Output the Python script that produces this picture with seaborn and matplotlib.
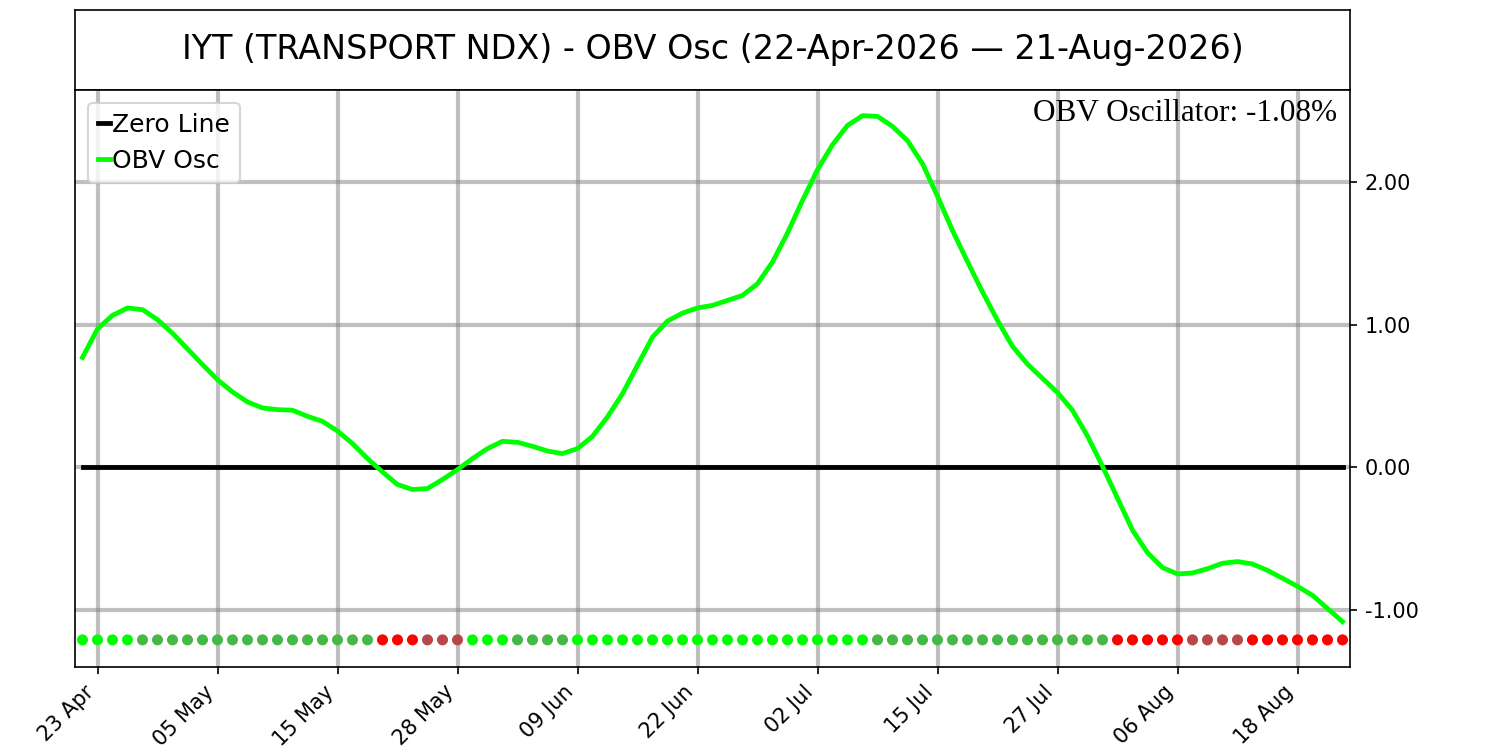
import matplotlib
matplotlib.use('Agg')
import matplotlib.pyplot as plt
from matplotlib.ticker import FormatStrFormatter
import seaborn as sns
import pandas as pd

# Trading days 22-Apr-2026 .. 21-Aug-2026 (US market holidays skipped)
start_date = '2026-04-22'
end_date = '2026-08-21'
holidays = ['2026-05-25', '2026-06-19', '2026-07-03']

# OBV oscillator values (%), one per trading day
obv_osc = [0.77, 0.97, 1.065, 1.117, 1.105, 1.035, 0.94, 0.83, 0.72, 0.614,
           0.528, 0.458, 0.416, 0.404, 0.40, 0.357, 0.322, 0.254, 0.166, 0.061,
           -0.033, -0.121, -0.156, -0.149, -0.086, -0.016, 0.061, 0.131, 0.182, 0.175,
           0.147, 0.114, 0.096, 0.131, 0.217, 0.353, 0.516, 0.715, 0.913, 1.025,
           1.081, 1.117, 1.135, 1.17, 1.205, 1.287, 1.439, 1.642, 1.871, 2.086,
           2.261, 2.397, 2.465, 2.46, 2.39, 2.29, 2.128, 1.90, 1.66, 1.441,
           1.229, 1.03, 0.848, 0.723, 0.623, 0.524, 0.399, 0.219, 0.007, -0.217,
           -0.441, -0.599, -0.703, -0.748, -0.741, -0.711, -0.673, -0.661, -0.678, -0.723,
           -0.778, -0.835, -0.898, -0.99, -1.082]

# State of each day's marker dot, as (state, number of days) runs
state_runs = [('pos_up', 4), ('pos_down', 16), ('neg_down', 3), ('neg_up', 3),
              ('pos_up', 3), ('pos_down', 4), ('pos_up', 20), ('pos_down', 16),
              ('neg_down', 5), ('neg_up', 4), ('neg_down', 7)]
state_colors = {'pos_up': '#00FF00', 'pos_down': '#47B847',
                'neg_down': '#FF0000', 'neg_up': '#B84747'}
dot_level = -1.21

ticker = 'IYT (TRANSPORT NDX)'
last_value = obv_osc[-1]

dates = pd.bdate_range(start_date, end_date, freq='C', holidays=holidays)
states = [s for s, n in state_runs for _ in range(n)]
df = pd.DataFrame({'idx': range(len(obv_osc)), 'osc': obv_osc,
                   'zero': 0.0, 'dot': dot_level, 'state': states})

fig = plt.figure(figsize=(10, 5), dpi=150)

# Title box
ax_t = fig.add_axes([0.05, 0.88, 0.85, 0.1067])
ax_t.set_xticks([])
ax_t.set_yticks([])
title = '%s - OBV Osc (%s \u2014 %s)' % (ticker, dates[0].strftime('%d-%b-%Y'),
                                         dates[-1].strftime('%d-%b-%Y'))
ax_t.text(0.5, 0.5, title, ha='center', va='center', fontsize=16)

# Main panel
ax = fig.add_axes([0.05, 0.1107, 0.85, 0.7693])
sns.lineplot(data=df, x='idx', y='zero', color='black', linewidth=2.3,
             label='Zero Line', ax=ax)
sns.lineplot(data=df, x='idx', y='osc', color='lime', linewidth=2.3,
             label='OBV Osc', ax=ax)
sns.scatterplot(data=df, x='idx', y='dot', hue='state', palette=state_colors,
                s=28, edgecolor='none', legend=False, zorder=3, ax=ax)

ax.set_xlim(-0.5, len(obv_osc) - 0.5)
ax.set_ylim(-1.40, 2.645)
ax.set_xlabel('')
ax.set_ylabel('')

tick_pos = list(range(1, len(obv_osc), 8))
ax.set_xticks(tick_pos)
ax.set_xticklabels([dates[i].strftime('%d %b') for i in tick_pos],
                   rotation=45, ha='right', fontsize=10)

ax.yaxis.tick_right()
ax.set_yticks([-1, 0, 1, 2])
ax.yaxis.set_major_formatter(FormatStrFormatter('%.2f'))
ax.tick_params(axis='y', labelsize=10)

ax.grid(True, color='gray', alpha=0.5, linewidth=2)
ax.legend(loc='upper left', fontsize=12, handlelength=0.5, handletextpad=0.1)

ax.text(0.99, 0.985, 'OBV Oscillator: %.2f%%' % last_value, transform=ax.transAxes,
        ha='right', va='top', fontsize=15, family='Liberation Serif')

fig.savefig('out.png', dpi=150)
